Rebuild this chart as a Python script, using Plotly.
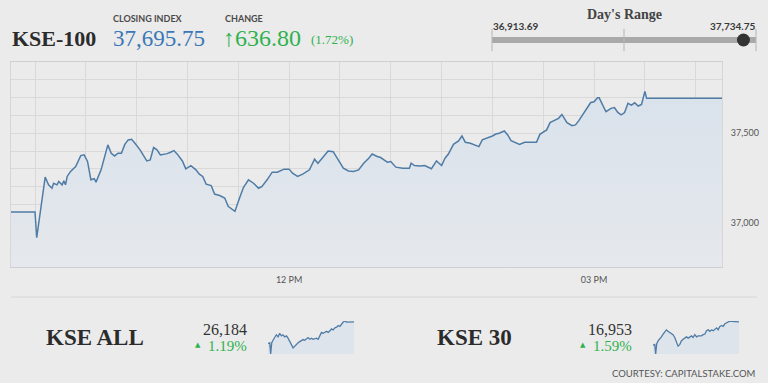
import plotly.graph_objects as go

# ---------------- data ----------------
DAY = "2019-01-01"
index_name = "KSE-100"
closing_index = 37695.75
change_points = 636.80
change_pct = 1.72
day_low = 36913.69
day_high = 37734.75

main_times = [
    "09:15", "09:30", "09:31", "09:34", "09:36", "09:38", "09:40", "09:41", "09:43", "09:44",
    "09:46", "09:47", "09:48", "09:49", "09:51", "09:54", "09:57", "09:59", "10:01", "10:03",
    "10:05", "10:06", "10:09", "10:13", "10:15", "10:17", "10:19", "10:21", "10:23", "10:25",
    "10:27", "10:29", "10:32", "10:36", "10:38", "10:40", "10:42", "10:44", "10:48", "10:50",
    "10:52", "10:54", "10:57", "10:59", "11:02", "11:05", "11:07", "11:09", "11:11", "11:14",
    "11:16", "11:19", "11:22", "11:24", "11:28", "11:30", "11:33", "11:36", "11:39", "11:42",
    "11:44", "11:47", "11:50", "11:53", "11:57", "12:00", "12:02", "12:05", "12:08", "12:12",
    "12:15", "12:17", "12:20", "12:23", "12:26", "12:29", "12:32", "12:35", "12:38", "12:41",
    "12:44", "12:47", "12:49", "12:52", "12:54", "12:56", "12:58", "13:00", "13:03", "13:07",
    "13:11", "13:12", "13:14", "13:17", "13:20", "13:24", "13:27", "13:28", "13:30", "13:32",
    "13:34", "13:37", "13:40", "13:42", "13:44", "13:47", "13:50", "13:52", "13:54", "13:57",
    "14:00", "14:02", "14:04", "14:07", "14:09", "14:11", "14:14", "14:16", "14:19", "14:23",
    "14:26", "14:28", "14:30", "14:32", "14:34", "14:37", "14:39", "14:41", "14:42", "14:44",
    "14:47", "14:49", "14:51", "14:54", "14:56", "14:58", "15:00", "15:02", "15:03", "15:05",
    "15:07", "15:10", "15:12", "15:14", "15:16", "15:18", "15:20", "15:22", "15:24", "15:26",
    "15:28", "15:30", "15:31", "16:16",
]
main_values = [
    37059, 37059, 36914, 37118, 37254, 37211, 37192, 37220, 37211, 37230,
    37211, 37233, 37211, 37258, 37286, 37314, 37375, 37379, 37342, 37239,
    37245, 37226, 37295, 37435, 37388, 37373, 37388, 37388, 37438, 37463,
    37466, 37444, 37407, 37345, 37351, 37420, 37407, 37379, 37386, 37394,
    37403, 37383, 37345, 37301, 37319, 37295, 37271, 37258, 37215, 37207,
    37159, 37151, 37137, 37090, 37062, 37118, 37196, 37239, 37220, 37192,
    37202, 37239, 37282, 37282, 37299, 37299, 37276, 37258, 37271, 37295,
    37355, 37332, 37370, 37401, 37397, 37351, 37304, 37289, 37286, 37295,
    37332, 37360, 37384, 37370, 37364, 37351, 37338, 37342, 37310, 37304,
    37304, 37332, 37319, 37317, 37319, 37301, 37345, 37336, 37319, 37360,
    37384, 37438, 37457, 37485, 37450, 37444, 37431, 37425, 37463, 37472,
    37485, 37496, 37500, 37513, 37491, 37459, 37444, 37438, 37450, 37450,
    37450, 37494, 37509, 37519, 37560, 37575, 37584, 37606, 37593, 37560,
    37543, 37547, 37571, 37617, 37640, 37673, 37677, 37699, 37699, 37662,
    37621, 37640, 37644, 37617, 37603, 37616, 37668, 37658, 37671, 37653,
    37662, 37735, 37696, 37696,
]

y_tick_values = [37000, 37500]
y_tick_labels = ["37,000", "37,500"]
x_tick_times = ["12:00", "15:00"]
x_tick_labels = ["12 PM", "03 PM"]

spark_times = [
    "09:30", "09:38", "09:42", "09:47", "09:53", "10:00", "10:08", "10:16", "10:23", "10:31",
    "10:38", "10:46", "10:54", "11:01", "11:09", "11:16", "11:24", "11:32", "11:39", "11:47",
    "11:54", "12:02", "12:10", "12:17", "12:25", "12:32", "12:40", "12:48", "12:55", "13:03",
    "13:10", "13:18", "13:26", "13:33", "13:41", "13:48", "13:56", "14:04", "14:11", "14:19",
    "14:26", "14:34", "14:42", "14:49", "14:57", "15:04", "15:12", "15:20", "15:27", "16:01",
]
kse_all_name = "KSE ALL"
kse_all_last = 26184
kse_all_pct = 1.19
kse_all_values = [
    25918, 25930, 25792, 25930, 25960, 25985, 26027, 26002, 26044, 26014,
    26027, 26002, 26014, 25985, 25951, 25909, 25867, 25888, 25918, 25930,
    25943, 25951, 25968, 25960, 25985, 25993, 25972, 25985, 25972, 25981,
    25985, 25972, 26014, 26056, 26044, 26056, 26069, 26056, 26077, 26098,
    26086, 26111, 26119, 26140, 26128, 26161, 26182, 26195, 26182, 26184,
]
kse30_name = "KSE 30"
kse30_last = 16953
kse30_pct = 1.59
kse30_values = [
    16770, 16776, 16700, 16781, 16803, 16816, 16835, 16857, 16871, 16890,
    16879, 16871, 16862, 16852, 16830, 16803, 16762, 16776, 16803, 16816,
    16825, 16835, 16825, 16835, 16843, 16830, 16852, 16835, 16843, 16843,
    16843, 16852, 16857, 16884, 16890, 16879, 16890, 16884, 16898, 16906,
    16890, 16917, 16925, 16917, 16938, 16944, 16952, 16960, 16957, 16953,
]
courtesy = "COURTESY: CAPITALSTAKE.COM"

# ---------------- styling ----------------
W, H = 768, 383
BG = "#ebebeb"
GRID = "#d9d9d9"
LINE = "#4f7ca6"
FILL = "#dde4ec"
GREEN = "#2fb24e"
BLUE = "#3b78b7"
DARK = "#2b2b2b"
SERIF = "Liberation Serif"
SANS = "Lato"


def px(x):
    return x / W


def py(y):
    return 1 - y / H


def ts(t):
    return f"{DAY} {t}"


fig = go.Figure()

# main intraday chart
fig.add_trace(go.Scatter(
    x=[ts(t) for t in main_times], y=main_values, mode="lines",
    line=dict(color=LINE, width=1.5), fill="tozeroy",
    fillgradient=dict(type="vertical", start=36750, stop=max(main_values),
                      colorscale=[[0, "rgba(229,232,236,1)"], [1, "rgba(217,226,236,1)"]]),
    hoverinfo="skip", showlegend=False, xaxis="x", yaxis="y",
))

# sparklines
for vals, ax in [(kse_all_values, "2"), (kse30_values, "3")]:
    fig.add_trace(go.Scatter(
        x=[ts(t) for t in spark_times], y=vals, mode="lines",
        line=dict(color=LINE, width=1.3), fill="tozeroy", fillcolor=FILL,
        hoverinfo="skip", showlegend=False, xaxis="x" + ax, yaxis="y" + ax,
    ))

# day's range bar
mid = (day_low + day_high) / 2
fig.add_trace(go.Scatter(
    x=[day_low, day_high], y=[0.5, 0.5], mode="lines",
    line=dict(color="#a9a9a9", width=6), hoverinfo="skip", showlegend=False,
    xaxis="x4", yaxis="y4", cliponaxis=False,
))
fig.add_trace(go.Scatter(
    x=[day_low, mid, day_high], y=[0.5, 0.5, 0.5], mode="markers",
    marker=dict(symbol="line-ns", size=16, line=dict(color="#b5b5b5", width=1)),
    hoverinfo="skip", showlegend=False, xaxis="x4", yaxis="y4", cliponaxis=False,
))
fig.add_trace(go.Scatter(
    x=[closing_index], y=[0.5], mode="markers",
    marker=dict(size=13, color="#333333"),
    hoverinfo="skip", showlegend=False, xaxis="x4", yaxis="y4", cliponaxis=False,
))

x_grid = [ts(f"{h:02d}:{m:02d}") for h in range(9, 17) for m in (0, 30)
          if "09:30" <= f"{h:02d}:{m:02d}" <= "16:00"]
x_text = [dict(zip(x_tick_times, x_tick_labels)).get(v[-5:], "") for v in x_grid]
y_grid = list(range(36800, 37901, 100))
y_text = [dict(zip(y_tick_values, y_tick_labels)).get(v, "") for v in y_grid]

hidden = dict(visible=False, fixedrange=True)

fig.update_layout(
    width=W, height=H, margin=dict(l=0, r=0, t=0, b=0),
    paper_bgcolor=BG, plot_bgcolor="rgba(0,0,0,0)",
    xaxis=dict(domain=[px(11), px(722)], type="date",
               range=[ts("09:15:50"), ts("16:15:30")],
               tickmode="array", tickvals=x_grid, ticktext=x_text,
               showgrid=True, gridcolor=GRID, gridwidth=1,
               showline=True, linecolor="#cfcfcf", mirror=True,
               ticks="", tickfont=dict(family=SANS, size=9, color="#555"),
               ticklabelstandoff=4, zeroline=False),
    yaxis=dict(domain=[py(267), py(62)], range=[36750, 37900], side="right",
               tickmode="array", tickvals=y_grid, ticktext=y_text,
               showgrid=True, gridcolor=GRID, gridwidth=1,
               showline=True, linecolor="#d6d6d6", mirror=True,
               ticks="", tickfont=dict(family=SANS, size=9, color="#555"),
               ticklabelstandoff=6, zeroline=False),
    xaxis2=dict(domain=[px(268), px(354)], anchor="y2", **hidden),
    yaxis2=dict(domain=[py(354), py(321)], anchor="x2",
                range=[min(kse_all_values), max(kse_all_values)], **hidden),
    xaxis3=dict(domain=[px(653), px(739)], anchor="y3", **hidden),
    yaxis3=dict(domain=[py(354), py(321)], anchor="x3",
                range=[min(kse30_values), max(kse30_values)], **hidden),
    xaxis4=dict(domain=[px(492), px(756)], anchor="y4",
                range=[day_low, day_high], **hidden),
    yaxis4=dict(domain=[py(48), py(32)], anchor="x4", range=[0, 1], **hidden),
)

# separator line above lower panel
fig.add_shape(type="line", xref="paper", yref="paper",
              x0=px(11), x1=px(757), y0=py(297), y1=py(297),
              line=dict(color="#d6d6d6", width=1))


def note(text, x, y, size, color, family, xanchor="left", bold=False):
    fig.add_annotation(
        text=f"<b>{text}</b>" if bold else text, x=px(x), y=py(y),
        xref="paper", yref="paper", xanchor=xanchor, yanchor="middle",
        showarrow=False, font=dict(size=size, color=color, family=family),
    )


# header
note(index_name, 10, 38, 22, DARK, SERIF, bold=True)
note("CLOSING INDEX", 111, 18, 9, "#4a4a4a", SANS, bold=True)
note(f"{closing_index:,.2f}", 111, 38, 23, BLUE, SERIF)
note("CHANGE", 223, 18, 9, "#4a4a4a", SANS, bold=True)
note(f"\u2191{change_points:,.2f}", 221, 38, 24, GREEN, SERIF)
note(f"({change_pct:.2f}%)", 309, 40, 13, GREEN, SERIF)

# day's range labels
note("Day's Range", 624, 15, 14, "#444", SERIF, xanchor="center", bold=True)
note(f"{day_low:,.2f}", 491, 26, 10, "#3a3a3a", SANS, bold=True)
note(f"{day_high:,.2f}", 758, 26, 10, "#3a3a3a", SANS, xanchor="right", bold=True)

# lower panel
for name, last, pct, xl, xr in [(kse_all_name, kse_all_last, kse_all_pct, 44, 249),
                                (kse30_name, kse30_last, kse30_pct, 435, 634)]:
    note(name, xl, 337, 23, DARK, SERIF, bold=True)
    note(f"{last:,}", xr, 329, 16, "#333", SERIF, xanchor="right")
    note(f"{pct:.2f}%", xr, 346, 15, GREEN, SERIF, xanchor="right")
    note("\u25B2", xr - 51, 345, 7, GREEN, "DejaVu Sans", xanchor="center")

note(courtesy, 757, 373, 9.5, "#555", SANS, xanchor="right")

fig.write_html("out.html", config={"displayModeBar": False, "staticPlot": True})
with open("out.html", encoding="utf-8") as f:
    page = f.read()
page = page.replace("<head>", "<head><style>html,body{margin:0;padding:0;overflow:hidden;}</style>", 1)
with open("out.html", "w", encoding="utf-8") as f:
    f.write(page)
